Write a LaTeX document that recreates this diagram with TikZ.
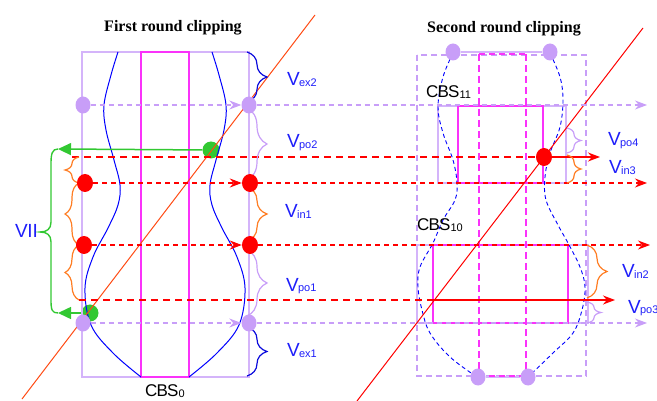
\documentclass[tikz,border=0pt]{standalone}
\usepackage{fontspec}
\setmainfont{Liberation Sans}
\newfontfamily\titlefont{Liberation Serif}
\usetikzlibrary{arrows.meta,decorations.pathreplacing,shapes.geometric}
\definecolor{lav}{RGB}{200,158,248}
\definecolor{lavl}{RGB}{212,180,250}
\definecolor{mag}{RGB}{250,50,250}
\definecolor{orng}{RGB}{255,125,35}
\definecolor{grn}{RGB}{50,200,50}
\definecolor{txtblue}{RGB}{30,30,250}
\definecolor{brblue}{RGB}{10,10,220}
\definecolor{orred}{RGB}{255,75,20}
\newcommand{\Vsym}[1]{{\fontsize{19}{19}\selectfont V}\kern-0.8pt\raisebox{-1pt}{\fontsize{11}{11}\selectfont #1}}
\newcommand{\CBSname}[1]{{\fontsize{17}{17}\selectfont C\kern-0.8pt B\kern-0.8pt S}\raisebox{-1pt}{\fontsize{11}{11}\selectfont #1}}
\pgfdeclarelayer{bg}
\pgfdeclarelayer{fg}
\pgfsetlayers{bg,main,fg}
\begin{document}
\begin{tikzpicture}[x=1pt,y=-1pt,
  blob/.style={ellipse,inner sep=0pt,minimum width=15pt,minimum height=17pt},
  lavdot/.style={blob,fill=lav},
  reddot/.style={blob,fill=red,minimum width=16pt,minimum height=18pt},
  grndot/.style={blob,fill=grn,minimum width=17pt,minimum height=17pt},
  thin dash/.style={line width=1.1pt,dash pattern=on 5pt off 4pt},
  heavy dash/.style={line width=2.3pt,dash pattern=on 7pt off 5pt},
  tipR/.style={-{Stealth[length=12pt,width=9pt]}},
  brR/.style={decorate,decoration={brace,amplitude=20pt},line width=1.2pt},
  brRs/.style={decorate,decoration={brace,amplitude=14pt},line width=1.2pt},
  brL/.style={decorate,decoration={brace,amplitude=14pt},line width=1.2pt},
  lbl/.style={text=txtblue,anchor=base west,inner sep=0pt},
  cbs/.style={anchor=base west,inner sep=0pt},
  ttl/.style={anchor=base,inner sep=0pt,font=\titlefont\bfseries\fontsize{16}{16}\selectfont}
]
\useasboundingbox (0,0) rectangle (657,401);

% titles
\node[ttl] (t1) at (173,32) {First round clipping};
\node[ttl] (t2) at (504,33) {Second round clipping};

% ---------- first round ----------
\draw[lavl,line width=1.2pt] (82,52) rectangle (249,377);
\draw[lavl,line width=2.6pt] (249,52) -- (249,377);
\draw[mag,line width=1.3pt] (141,52) rectangle (189,377);
\draw[blue,line width=1pt] plot[smooth,tension=0.6] coordinates {(118,52) (111,75) (104,105) (106,130) (114,160) (120,185) (118,205) (108,228) (93,257) (85,288) (91,325) (113,353) (141,377)};
\draw[blue,line width=1pt] plot[smooth,tension=0.6] coordinates {(212,52) (219,75) (226,105) (224,130) (216,160) (210,185) (212,205) (222,228) (237,257) (245,288) (239,325) (217,353) (189,377)};

% ---------- second round ----------
\draw[lav,line width=1.4pt,dash pattern=on 6pt off 4pt] (417,55) rectangle (586,376);
\draw[lavl,line width=1.4pt] (438,106) rectangle (566,183);
\draw[mag,line width=1.2pt] (458,106) rectangle (543,183);
\draw[lavl,line width=1.4pt] (417,245) rectangle (588,323);
\draw[mag,line width=1.2pt] (433,245) rectangle (568,323);
\draw[mag,line width=2.2pt,dash pattern=on 7pt off 4pt] (479,54) -- (479,376);
\draw[mag,line width=2.2pt,dash pattern=on 7pt off 4pt] (526,54) -- (526,376);
\draw[blue,line width=0.9pt,dash pattern=on 4pt off 3pt] plot[smooth,tension=0.6] coordinates {(453,53) (443,77) (438,107) (443,133) (453,160) (457,183) (455,200) (443,220) (433,243) (420,267) (418,287) (422,310) (430,333) (450,357) (477,377)};
\draw[blue,line width=0.9pt,dash pattern=on 4pt off 3pt] plot[smooth,tension=0.6] coordinates {(550,53) (560,77) (563,100) (560,127) (550,153) (545,177) (546,200) (558,225) (568,243) (580,267) (585,287) (582,310) (573,333) (553,353) (528,377)};

% dots
\begin{pgfonlayer}{fg}
\node[lavdot] (a1) at (83,105) {};
\node[lavdot] (a2) at (249,105) {};
\node[lavdot] (a3) at (83,323) {};
\node[lavdot] (a4) at (249,323) {};
\node[reddot] (b1) at (85,183) {};
\node[reddot] (b2) at (250,183) {};
\node[reddot] (b3) at (84,245) {};
\node[reddot] (b4) at (250,245) {};
\node[reddot] (b5) at (544,157) {};
\node[lavdot] (c1) at (453,52) {};
\node[lavdot] (c2) at (550,52) {};
\node[lavdot] (c3) at (478,377) {};
\node[lavdot] (c4) at (528,377) {};
\end{pgfonlayer}
\begin{pgfonlayer}{bg}
\node[grndot] (g1) at (211,150) {};
\node[grndot] (g2) at (90,313) {};
\end{pgfonlayer}

\draw[lavl,line width=1.4pt] (c1) -- (c2);
\draw[lavl,line width=1.4pt] (c3) -- (c4);
\draw[mag,line width=1.2pt,dash pattern=on 6pt off 4pt] (479,54) -- (526,54);
\draw[mag,line width=1.2pt,dash pattern=on 6pt off 4pt] (479,376) -- (526,376);

% diagonals
\draw[orred,line width=1pt] (22,399) -- (315,15);
\draw[red,line width=1pt] (357,401) -- (643,28);

% free ends
\coordinate (e1) at (647,105);
\coordinate (e2) at (647,183);
\coordinate (e3) at (650,245);
\coordinate (e4) at (647,323);
\coordinate (h1) at (72,157);
\coordinate (h2) at (79,300);
\coordinate (k) at (433,300);
\coordinate (f1) at (600,157);
\coordinate (f2) at (615,300);
\coordinate (ga) at (58,149);
\coordinate (gb) at (58,313);

% dashed rays
\draw[lav,thin dash,tipR] (a1) -- (a2);
\draw[lav,thin dash,tipR] (a2) -- (e1);
\draw[lav,thin dash,tipR] (a3) -- (a4);
\draw[lav,thin dash,tipR] (a4) -- (e4);
\draw[red,thin dash,tipR] (b1) -- (b2);
\draw[red,thin dash,tipR] (b2) -- (e2);
\draw[red,thin dash,tipR] (b3) -- (b4);
\draw[red,thin dash,tipR] (b4) -- (e3);
\draw[red,heavy dash] (h1) -- (b5);
\draw[red,line width=1.5pt,tipR] (b5) -- (f1);
\draw[red,heavy dash] (h2) -- (k);
\draw[red,line width=1.5pt,tipR] (k) -- (f2);

% green links and brace
\draw[grn,line width=1.5pt,-{Triangle[length=13pt,width=12pt]}] (g1) -- (ga);
\draw[grn,line width=1.5pt,-{Triangle[length=13pt,width=12pt]}] (g2) -- (gb);
\draw[grn,line width=1.4pt] (ga) .. controls (52,149) and (51,154) .. (51,164) -- (51,222) .. controls (51,229) and (47,232) .. (40,232) .. controls (47,232) and (51,235) .. (51,242) -- (51,300) .. controls (51,310) and (52,313) .. (gb);

% braces, first round
\draw[orng,brL] (79,183) -- (79,157);
\draw[orng,brL] (79,245) -- (79,183);
\draw[orng,brL] (79,300) -- (79,245);
\draw[brblue,brR] (247,52) -- (247,102);
\draw[lav,brR] (247,108) -- (247,180);
\draw[orng,brR] (247,187) -- (247,241);
\draw[lav,brR] (247,250) -- (247,316);
\draw[brblue,brR] (247,327) -- (247,376);

% braces, second round
\draw[lav,brRs] (567,128) -- (567,153);
\draw[orng,brRs] (567,155) -- (567,183);
\draw[orng,brR] (587,245) -- (587,298);
\draw[lav,brRs] (587,302) -- (587,323);

% labels
\node[lbl] (lex2) at (287,86) {\Vsym{ex2}};
\node[lbl] (lpo2) at (287,148) {\Vsym{po2}};
\node[lbl] (lin1) at (285,218) {\Vsym{in1}};
\node[lbl] (lpo1) at (286,291) {\Vsym{po1}};
\node[lbl] (lex1) at (287,356) {\Vsym{ex1}};
\node[lbl] (lpo4) at (608,146) {\Vsym{po4}};
\node[lbl] (lin3) at (609,174) {\Vsym{in3}};
\node[lbl] (lin2) at (622,278) {\Vsym{in2}};
\node[lbl] (lpo3) at (628,313) {\Vsym{po3}};
\node[lbl] (lvii) at (15,238) {\fontsize{19}{19}\selectfont V\kern-0.5pt II};
\node[cbs] (n0) at (145,396) {\CBSname{0}};
\node[cbs] (n11) at (426,98) {\CBSname{11}};
\node[cbs] (n10) at (417,231) {\CBSname{10}};
\end{tikzpicture}
\end{document}
